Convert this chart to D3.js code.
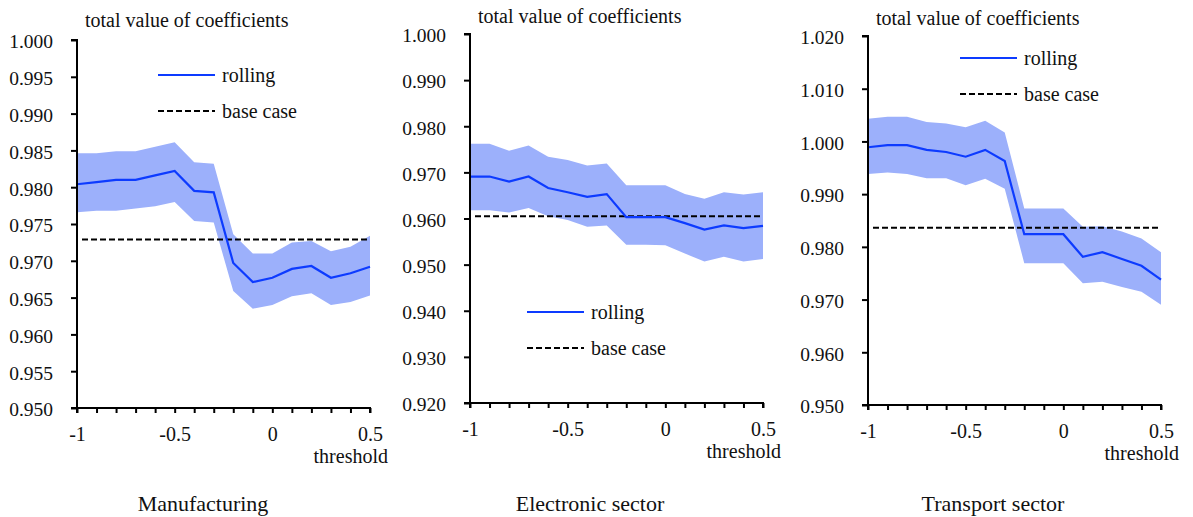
<!DOCTYPE html>
<html>
<head>
<meta charset="utf-8">
<script src="https://cdn.jsdelivr.net/npm/d3@7"></script>
<style>
  body { margin: 0; background: #fff; }
  svg text { font-family: "Liberation Serif", "Times New Roman", serif; fill: #111; }
</style>
</head>
<body>
<div id="chart"></div>
<script>
// thresholds on the x axis, shared by all three panels
var thresholds = [-1, -0.9, -0.8, -0.7, -0.6, -0.5, -0.4, -0.3, -0.2, -0.1, 0, 0.1, 0.2, 0.3, 0.4, 0.5];

var mfgRolling = [0.9804, 0.9807, 0.9810, 0.9810, 0.9816, 0.9822, 0.9795, 0.9793, 0.9697, 0.9671, 0.9677, 0.9689, 0.9693, 0.9677, 0.9683, 0.9692];
var mfgUpper   = [0.9846, 0.9846, 0.9849, 0.9849, 0.9855, 0.9861, 0.9834, 0.9832, 0.9736, 0.9710, 0.9710, 0.9725, 0.9727, 0.9713, 0.9719, 0.9734];
var mfgLower   = [0.9766, 0.9768, 0.9768, 0.9771, 0.9774, 0.9780, 0.9754, 0.9752, 0.9659, 0.9635, 0.9640, 0.9652, 0.9656, 0.9640, 0.9644, 0.9653];
var mfgBase = 0.9729;

var elecRolling = [0.9691, 0.9691, 0.9680, 0.9691, 0.9666, 0.9657, 0.9647, 0.9653, 0.9603, 0.9603, 0.9603, 0.9590, 0.9576, 0.9585, 0.9579, 0.9584];
var elecUpper   = [0.9762, 0.9762, 0.9747, 0.9758, 0.9734, 0.9727, 0.9715, 0.9719, 0.9672, 0.9672, 0.9672, 0.9653, 0.9643, 0.9657, 0.9652, 0.9657];
var elecLower   = [0.9618, 0.9618, 0.9613, 0.9623, 0.9605, 0.9597, 0.9582, 0.9585, 0.9543, 0.9543, 0.9542, 0.9524, 0.9507, 0.9517, 0.9507, 0.9512];
var elecBase = 0.9605;

var transRolling = [0.9989, 0.9993, 0.9993, 0.9984, 0.9980, 0.9971, 0.9984, 0.9963, 0.9824, 0.9824, 0.9824, 0.9781, 0.9790, 0.9777, 0.9764, 0.9738];
var transUpper   = [1.0043, 1.0047, 1.0047, 1.0037, 1.0034, 1.0027, 1.0039, 1.0017, 0.9873, 0.9873, 0.9873, 0.9838, 0.9839, 0.9829, 0.9816, 0.9790];
var transLower   = [0.9938, 0.9941, 0.9938, 0.9930, 0.9930, 0.9917, 0.9929, 0.9910, 0.9769, 0.9769, 0.9769, 0.9731, 0.9734, 0.9724, 0.9715, 0.9690];
var transBase = 0.98363;

var sectorNames = ["Manufacturing", "Electronic sector", "Transport sector"];
var yTicks1 = [0.950, 0.955, 0.960, 0.965, 0.970, 0.975, 0.980, 0.985, 0.990, 0.995, 1.000];
var yTicks2 = [0.920, 0.930, 0.940, 0.950, 0.960, 0.970, 0.980, 0.990, 1.000];
var yTicks3 = [0.950, 0.960, 0.970, 0.980, 0.990, 1.000, 1.010, 1.020];
var xLabels = [-1, -0.5, 0, 0.5];

var width = 1193, height = 517;
var lineBlue = "#0d3bff";
var bandBlue = "#9cb0fb";
var serif = "'Liberation Serif', 'Times New Roman', serif";

var svg = d3.select("#chart").append("svg")
  .attr("width", width)
  .attr("height", height)
  .attr("font-family", serif);

svg.append("rect").attr("width", width).attr("height", height).attr("fill", "#fff");

// layout of each panel (pixels), and which arrays it draws
var panels = [
  { left: 77, right: 370, top: 40, bottom: 408, yTicks: yTicks1,
    rolling: mfgRolling, upper: mfgUpper, lower: mfgLower, base: mfgBase,
    name: sectorNames[0], nameX: 203, titleY: 27, legX: 158, legY: 75 },
  { left: 470, right: 763, top: 34, bottom: 403, yTicks: yTicks2,
    rolling: elecRolling, upper: elecUpper, lower: elecLower, base: elecBase,
    name: sectorNames[1], nameX: 590, titleY: 23, legX: 527, legY: 312 },
  { left: 868, right: 1161, top: 36, bottom: 405, yTicks: yTicks3,
    rolling: transRolling, upper: transUpper, lower: transLower, base: transBase,
    name: sectorNames[2], nameX: 993, titleY: 25, legX: 960, legY: 58 }
];

panels.forEach(function(p) {
  var g = svg.append("g");

  var x = d3.scaleLinear()
    .domain([-1, 0.5])
    .range([p.left, p.right]);
  var y = d3.scaleLinear()
    .domain([p.yTicks[0], p.yTicks[p.yTicks.length - 1]])
    .range([p.bottom, p.top]);

  var pts = thresholds.map(function(t, i) {
    return { t: t, v: p.rolling[i], hi: p.upper[i], lo: p.lower[i] };
  });

  // confidence band
  g.append("path")
    .datum(pts)
    .attr("fill", bandBlue)
    .attr("d", d3.area()
      .x(function(d) { return x(d.t); })
      .y0(function(d) { return y(d.lo); })
      .y1(function(d) { return y(d.hi); }));

  // base case
  g.append("line")
    .attr("x1", x(-1) + 5)
    .attr("x2", x(0.5))
    .attr("y1", y(p.base))
    .attr("y2", y(p.base))
    .attr("stroke", "#000")
    .attr("stroke-width", 2)
    .attr("stroke-dasharray", "6,3");

  // rolling
  g.append("path")
    .datum(pts)
    .attr("fill", "none")
    .attr("stroke", lineBlue)
    .attr("stroke-width", 2.2)
    .attr("d", d3.line()
      .x(function(d) { return x(d.t); })
      .y(function(d) { return y(d.v); }));

  // axes
  var yAxis = d3.axisLeft(y)
    .tickValues(p.yTicks)
    .tickFormat(d3.format(".3f"))
    .tickSize(6)
    .tickPadding(18);
  var yG = g.append("g")
    .attr("transform", "translate(" + p.left + ",0)")
    .call(yAxis);

  var xAxis = d3.axisBottom(x)
    .tickValues(thresholds)
    .tickFormat(function(d) {
      var r = Math.round(d * 10) / 10;
      return xLabels.indexOf(r) >= 0 ? String(r) : "";
    })
    .tickSize(5)
    .tickPadding(14);
  var xG = g.append("g")
    .attr("transform", "translate(0," + p.bottom + ")")
    .call(xAxis);

  [yG, xG].forEach(function(a) {
    a.attr("font-family", serif);
    a.select(".domain").attr("stroke", "#000").attr("stroke-width", 2);
    a.selectAll(".tick line").attr("stroke", "#000").attr("stroke-width", 2);
    a.selectAll(".tick text").attr("fill", "#111");
  });
  yG.attr("font-size", 19.5);
  yG.selectAll(".tick text").attr("dy", "0.4em");
  xG.attr("font-size", 20);
  yG.select(".domain").attr("d", "M-6," + (p.bottom) + "H0V" + p.top + "H-6");
  xG.select(".domain").attr("d", "M" + p.left + ",5V0H" + p.right + "V5");

  // texts
  g.append("text")
    .attr("x", p.left + 8)
    .attr("y", p.titleY)
    .attr("font-size", 20)
    .text("total value of coefficients");

  g.append("text")
    .attr("x", p.right + 18)
    .attr("y", p.bottom + 55)
    .attr("text-anchor", "end")
    .attr("font-size", 20)
    .text("threshold");

  g.append("text")
    .attr("x", p.nameX)
    .attr("y", 511)
    .attr("text-anchor", "middle")
    .attr("font-size", 22)
    .text(p.name);

  // legend
  g.append("line")
    .attr("x1", p.legX).attr("x2", p.legX + 57)
    .attr("y1", p.legY).attr("y2", p.legY)
    .attr("stroke", lineBlue).attr("stroke-width", 2.2);
  g.append("text")
    .attr("x", p.legX + 64)
    .attr("y", p.legY + 7)
    .attr("font-size", 20)
    .text("rolling");
  g.append("line")
    .attr("x1", p.legX).attr("x2", p.legX + 57)
    .attr("y1", p.legY + 36).attr("y2", p.legY + 36)
    .attr("stroke", "#000").attr("stroke-width", 2)
    .attr("stroke-dasharray", "6,3");
  g.append("text")
    .attr("x", p.legX + 64)
    .attr("y", p.legY + 43)
    .attr("font-size", 20)
    .text("base case");
});
</script>
</body>
</html>
